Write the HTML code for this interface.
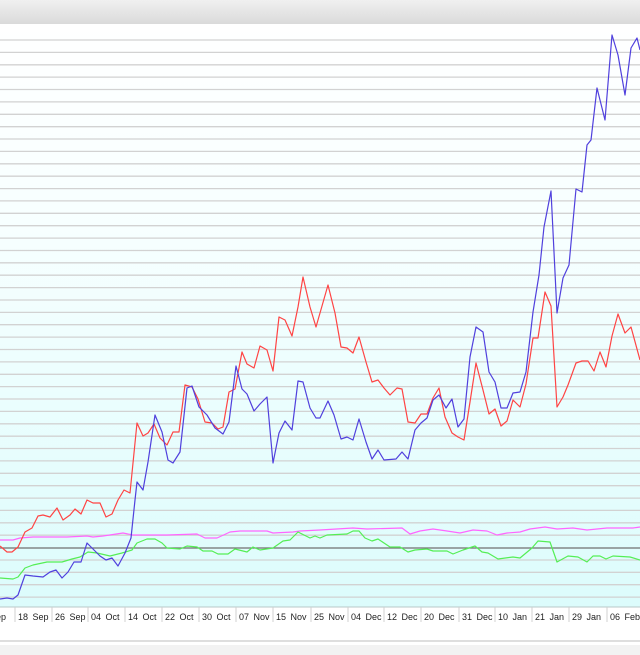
<!DOCTYPE html>
<html><head><meta charset="utf-8"><style>
body{margin:0;width:640px;height:655px;overflow:hidden;background:#fff;font-family:"Liberation Sans",sans-serif}
</style></head><body>
<svg width="640" height="655" xmlns="http://www.w3.org/2000/svg" style="display:block">
<defs>
<linearGradient id="hd" x1="0" y1="0" x2="0" y2="1"><stop offset="0" stop-color="#f0f0f0"/><stop offset="1" stop-color="#dadada"/></linearGradient>
<linearGradient id="bg" x1="0" y1="0" x2="0" y2="1"><stop offset="0" stop-color="#ffffff"/><stop offset="0.35" stop-color="#f7ffff"/><stop offset="1" stop-color="#dcfcfc"/></linearGradient>
</defs>
<rect x="0" y="0" width="640" height="24" fill="url(#hd)"/>
<rect x="0" y="24" width="640" height="583" fill="url(#bg)"/>
<path stroke="#d2d2d2" stroke-width="1.3" fill="none" d="M0 40H640M0 52.4H640M0 64.8H640M0 77.1H640M0 89.5H640M0 101.9H640M0 114.3H640M0 126.7H640M0 139H640M0 151.4H640M0 163.8H640M0 176.2H640M0 188.6H640M0 200.9H640M0 213.3H640M0 225.7H640M0 238.1H640M0 250.5H640M0 262.8H640M0 275.2H640M0 287.6H640M0 300H640M0 312.4H640M0 324.7H640M0 337.1H640M0 349.5H640M0 361.9H640M0 374.3H640M0 386.6H640M0 399H640M0 411.4H640M0 423.8H640M0 436.2H640M0 448.5H640M0 460.9H640M0 473.3H640M0 485.7H640M0 498.1H640M0 510.4H640M0 522.8H640M0 535.2H640M0 560H640M0 572.3H640M0 584.7H640M0 597.1H640"/>
<line x1="0" y1="548" x2="640" y2="548" stroke="#707070" stroke-width="1.3"/>
<line x1="0" y1="607" x2="640" y2="607" stroke="#b8c8c8" stroke-width="1"/>
<path stroke="#d0d0d0" stroke-width="1" fill="none" d="M15 607V622M52 607V622M88 607V622M125 607V622M162 607V622M199 607V622M236 607V622M273 607V622M311 607V622M348 607V622M384 607V622M421 607V622M459 607V622M495 607V622M532 607V622M569 607V622M607 607V622"/>
<g font-size="9" fill="#222" word-spacing="2">
<text x="-10" y="620">Sep</text>
<text x="18" y="620">18 Sep</text>
<text x="55" y="620">26 Sep</text>
<text x="91" y="620">04 Oct</text>
<text x="128" y="620">14 Oct</text>
<text x="165" y="620">22 Oct</text>
<text x="202" y="620">30 Oct</text>
<text x="239" y="620">07 Nov</text>
<text x="276" y="620">15 Nov</text>
<text x="314" y="620">25 Nov</text>
<text x="351" y="620">04 Dec</text>
<text x="387" y="620">12 Dec</text>
<text x="424" y="620">20 Dec</text>
<text x="462" y="620">31 Dec</text>
<text x="498" y="620">10 Jan</text>
<text x="535" y="620">21 Jan</text>
<text x="572" y="620">29 Jan</text>
<text x="610" y="620">06 Feb</text>
</g>
<line x1="0" y1="641" x2="640" y2="641" stroke="#bdbdbd" stroke-width="1"/>
<rect x="0" y="645" width="640" height="10" fill="#f2f2f2"/>
<g fill="none" stroke-width="1.2" stroke-linejoin="round">
<polyline stroke="#ff66ff" points="0,540 13,540 20,538 33,537 67,537 87,536 93,537 103,536 123,533 133,535 167,535 197,534 205,538 217,538 230,532 240,531 267,531 273,533 293,532 300,531 320,530 353,528 367,529 402,528 410,534 420,531 433,529 447,531 460,533 473,530 487,531 497,535 507,533 520,532 530,529 545,527 557,529 573,528 587,530 607,528 633,528 640,527"/>
<polyline stroke="#55ee55" points="0,578 13,579 18,577 25,568 33,565 47,562 62,562 72,559 80,557 88,552 97,553 110,556 122,553 132,550 137,543 147,539 155,539 162,543 167,548 180,549 187,546 197,547 203,551 212,551 218,554 228,554 235,549 247,552 253,547 260,550 273,548 283,541 290,540 298,532 310,538 315,536 320,538 327,535 347,534 353,531 359,531 365,538 372,541 378,539 390,547 400,547 408,552 415,550 427,549 433,551 447,551 453,554 463,550 475,546 482,552 488,553 498,559 513,557 520,558 532,548 538,541 550,542 557,562 568,556 578,557 587,562 593,556 600,556 606,559 613,556 630,557 640,560"/>
<polyline stroke="#ff4444" points="0,546 7,552 12,552 18,547 25,532 32,528 38,516 43,515 50,517 57,508 63,520 70,515 75,509 81,514 87,500 93,503 100,503 106,517 112,514 118,500 124,490 130,493 137,423 143,436 148,433 154,424 160,438 167,445 173,432 179,432 185,385 192,387 198,399 205,422 212,423 218,429 223,427 229,392 235,389 242,352 247,364 254,368 260,346 267,350 273,371 279,317 285,320 292,336 298,307 303,277 310,307 316,327 320,313 328,285 335,313 341,347 347,348 353,353 359,337 366,362 372,382 378,380 384,388 390,395 397,388 402,389 408,422 415,423 421,414 427,414 433,398 439,388 445,417 452,433 458,437 464,440 470,402 476,363 483,390 489,414 495,409 501,426 507,421 513,400 520,407 526,384 533,338 538,338 545,292 551,306 557,407 563,397 568,385 576,363 582,361 588,361 594,371 600,352 606,367 612,336 618,314 625,333 631,327 640,360"/>
<polyline stroke="#5040dd" points="0,599 7,598 13,599 18,595 25,575 33,576 43,577 50,572 56,570 62,578 68,572 74,562 81,562 87,543 93,549 100,556 106,560 112,558 118,566 125,553 131,538 135,500 137,482 143,490 148,462 155,415 162,432 168,460 173,463 180,452 187,388 192,386 199,407 207,415 215,428 223,434 229,422 236,366 242,389 247,394 254,411 260,404 267,397 273,463 279,433 285,421 292,430 298,381 303,382 310,408 316,418 320,418 328,401 334,415 341,439 347,437 353,440 359,419 366,442 372,459 378,450 384,460 396,459 402,452 408,459 415,430 421,423 427,418 433,400 439,395 446,408 452,399 458,427 464,419 470,357 476,327 483,332 489,372 495,382 501,408 507,408 513,393 520,392 526,372 533,312 539,275 544,227 551,191 557,313 563,278 569,265 576,189 582,192 587,145 591,140 597,88 605,120 612,35 618,55 625,95 631,48 637,38 640,50"/>
</g>
</svg>
</body></html>
